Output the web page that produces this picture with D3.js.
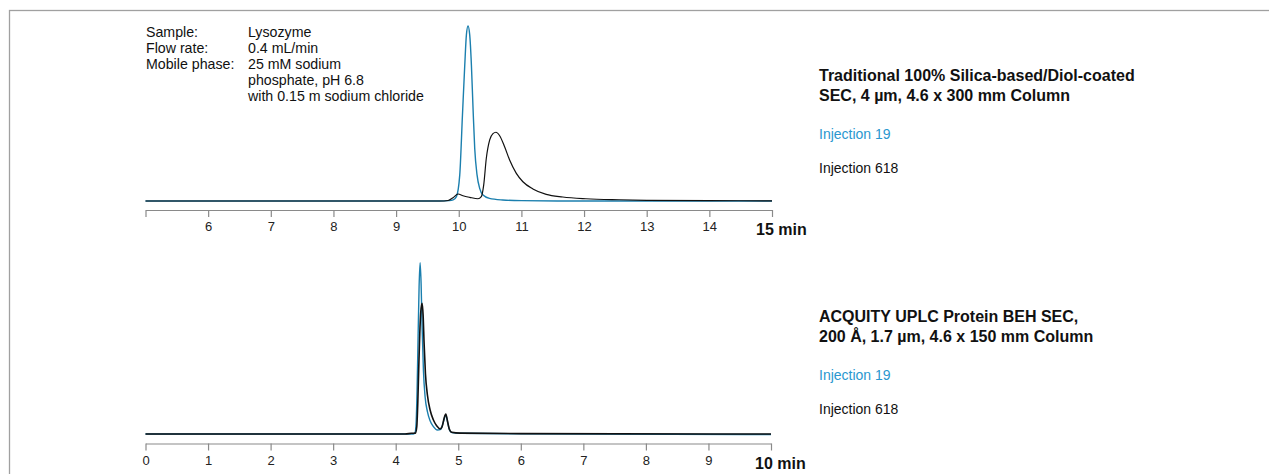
<!DOCTYPE html>
<html>
<head>
<meta charset="utf-8">
<script src="https://cdn.jsdelivr.net/npm/d3@7"></script>
<style>
  html, body { margin: 0; padding: 0; background: #fff; }
  svg { display: block; font-family: "Liberation Sans", Arial, sans-serif; }
</style>
</head>
<body>
<svg id="chart" width="1269" height="474"></svg>
<script>
// ---------- Data (time in min, absorbance in relative units) ----------
const topTicks = [5, 6, 7, 8, 9, 10, 11, 12, 13, 14, 15];
const topTickLabels = ["", "6", "7", "8", "9", "10", "11", "12", "13", "14", ""];
const bottomTicks = [0, 1, 2, 3, 4, 5, 6, 7, 8, 9, 10];
const bottomTickLabels = ["0", "1", "2", "3", "4", "5", "6", "7", "8", "9", ""];

// Traditional silica column
const topInj19 = [
  [5, 0], [9.7, 0], [9.85, 0.2], [9.91, 0.6], [9.963, 2.5], [10.016, 14.9], [10.059, 49],
  [10.096, 77.7], [10.122, 94.9], [10.148, 100], [10.175, 94.9], [10.202, 77.7],
  [10.228, 53], [10.255, 30], [10.292, 14.9], [10.334, 7.2], [10.387, 3.4],
  [10.49, 1.5], [10.7, 0.6], [11.0, 0.2], [11.8, 0], [15, 0]
];
const topInj618 = [
  [5, 0], [9.7, 0], [9.83, 0.3], [9.909, 1.9], [9.989, 4.0], [10.068, 3.0], [10.175, 2.1],
  [10.307, 1.3], [10.36, 2.5], [10.398, 9.1], [10.44, 24.4], [10.494, 34.9],
  [10.546, 38.5], [10.594, 39.3], [10.653, 37.3], [10.732, 31], [10.812, 23.4],
  [10.919, 15.8], [11.024, 11], [11.183, 6.9], [11.396, 3.8], [11.66, 2.3],
  [12.03, 1.3], [12.56, 0.7], [13.0, 0.4], [14.0, 0.2], [15, 0.1]
];

// ACQUITY UPLC Protein BEH SEC column
const bottomInj19 = [
  [0, 0], [4.283, 0], [4.31, 0.8], [4.326, 6.1], [4.342, 25.1], [4.358, 55.6],
  [4.374, 84.2], [4.39, 97.9], [4.406, 86.1], [4.422, 61.3], [4.443, 36.6],
  [4.47, 21.3], [4.507, 12.8], [4.55, 7.6], [4.603, 4.2], [4.667, 2.3],
  [4.721, 2.7], [4.763, 7.0], [4.801, 10.9], [4.833, 6.1], [4.859, 2.3],
  [4.897, 0.8], [5.03, 0.4], [6.0, 0.1], [10, -0.3]
];
const bottomInj618 = [
  [0, 0], [4.15, 0], [4.25, 0.4], [4.315, 0.5], [4.337, 4.2], [4.353, 17.5],
  [4.369, 38.5], [4.385, 57.5], [4.401, 69.9], [4.422, 74.7], [4.438, 68],
  [4.454, 51.8], [4.475, 34.7], [4.507, 22.3], [4.55, 13.7], [4.603, 8],
  [4.657, 4.6], [4.71, 2.9], [4.742, 4.2], [4.774, 9.0], [4.801, 11.4],
  [4.827, 7.6], [4.854, 3.2], [4.897, 1.0], [5.03, 0.5], [6.0, 0.2], [10, 0]
];

const topTitle = ["Traditional 100% Silica-based/Diol-coated", "SEC, 4 µm, 4.6 x 300 mm Column"];
const bottomTitle = ["ACQUITY UPLC Protein BEH SEC,", "200 Å, 1.7 µm, 4.6 x 150 mm Column"];
const seriesNames = ["Injection 19", "Injection 618"];
const infoLabels = ["Sample:", "Flow rate:", "Mobile phase:"];
const infoValues = ["Lysozyme", "0.4 mL/min", "25 mM sodium", "phosphate, pH 6.8", "with 0.15 m sodium chloride"];

// ---------- Drawing ----------
const svg = d3.select("#chart");
const BLUE_LINE = "#1b7fae";
const BLUE_TEXT = "#2a97cf";
const AXIS_GREY = "#8a8a8a";

svg.append("rect")
  .attr("x", 9.5).attr("y", 10.5)
  .attr("width", 1300).attr("height", 500)
  .attr("fill", "none").attr("stroke", "#a0a0a0").attr("stroke-width", 1.3);

// Info text
const info = svg.append("g").attr("font-size", 14.2).attr("fill", "#111");
infoLabels.forEach((t, i) => {
  info.append("text").attr("x", 146).attr("y", 37 + i * 16).text(t);
});
infoValues.forEach((t, i) => {
  info.append("text").attr("x", 248).attr("y", 37 + i * 16).text(t);
});

function panel(cfg) {
  const x = d3.scaleLinear().domain(cfg.domain).range([145.5, cfg.xEnd]);
  const y = d3.scaleLinear().domain([0, 100]).range([cfg.base, cfg.base - 175]);

  const axis = d3.axisBottom(x)
    .tickValues(cfg.ticks)
    .tickFormat((d, i) => cfg.labels[i])
    .tickSizeInner(7)
    .tickSizeOuter(0)
    .tickPadding(5);
  const g = svg.append("g").attr("transform", `translate(0,${cfg.axisY})`).call(axis);
  g.select(".domain").attr("stroke", AXIS_GREY).attr("stroke-width", 1.2);
  g.selectAll(".tick line").attr("stroke", AXIS_GREY).attr("stroke-width", 1.2);
  g.selectAll(".tick text")
    .attr("font-size", 13)
    .attr("font-family", "'Liberation Sans', Arial, sans-serif")
    .attr("fill", "#222");

  const lastTick = cfg.ticks[cfg.ticks.length - 1];
  svg.append("text")
    .attr("x", x(lastTick) - 16)
    .attr("y", cfg.axisY + 25)
    .attr("font-size", 16)
    .attr("font-weight", "bold")
    .attr("fill", "#111")
    .text(lastTick + " min");

  const line = d3.line()
    .x(d => x(d[0]))
    .y(d => y(d[1]))
    .curve(d3.curveMonotoneX);

  svg.append("path").datum(cfg.blue)
    .attr("d", line).attr("fill", "none")
    .attr("stroke", BLUE_LINE).attr("stroke-width", 1.4);
  svg.append("path").datum(cfg.black)
    .attr("d", line).attr("fill", "none")
    .attr("stroke", "#111").attr("stroke-width", cfg.blackWidth);

  // Legend
  const lg = svg.append("g");
  cfg.title.forEach((t, i) => {
    lg.append("text").attr("x", 819).attr("y", cfg.titleY + i * 20)
      .attr("font-size", 16).attr("font-weight", "bold").attr("fill", "#111").text(t);
  });
  lg.append("text").attr("x", 819).attr("y", cfg.titleY + 58)
    .attr("font-size", 14).attr("fill", BLUE_TEXT).text(seriesNames[0]);
  lg.append("text").attr("x", 819).attr("y", cfg.titleY + 92)
    .attr("font-size", 14).attr("fill", "#111").text(seriesNames[1]);
}

panel({
  domain: [5, 15], xEnd: 772, base: 201, axisY: 210,
  ticks: topTicks, labels: topTickLabels,
  blue: topInj19, black: topInj618, blackWidth: 1.2,
  title: topTitle, titleY: 81
});
panel({
  domain: [0, 10], xEnd: 771, base: 434, axisY: 443.5,
  ticks: bottomTicks, labels: bottomTickLabels,
  blue: bottomInj19, black: bottomInj618, blackWidth: 1.6,
  title: bottomTitle, titleY: 322
});
</script>
</body>
</html>
